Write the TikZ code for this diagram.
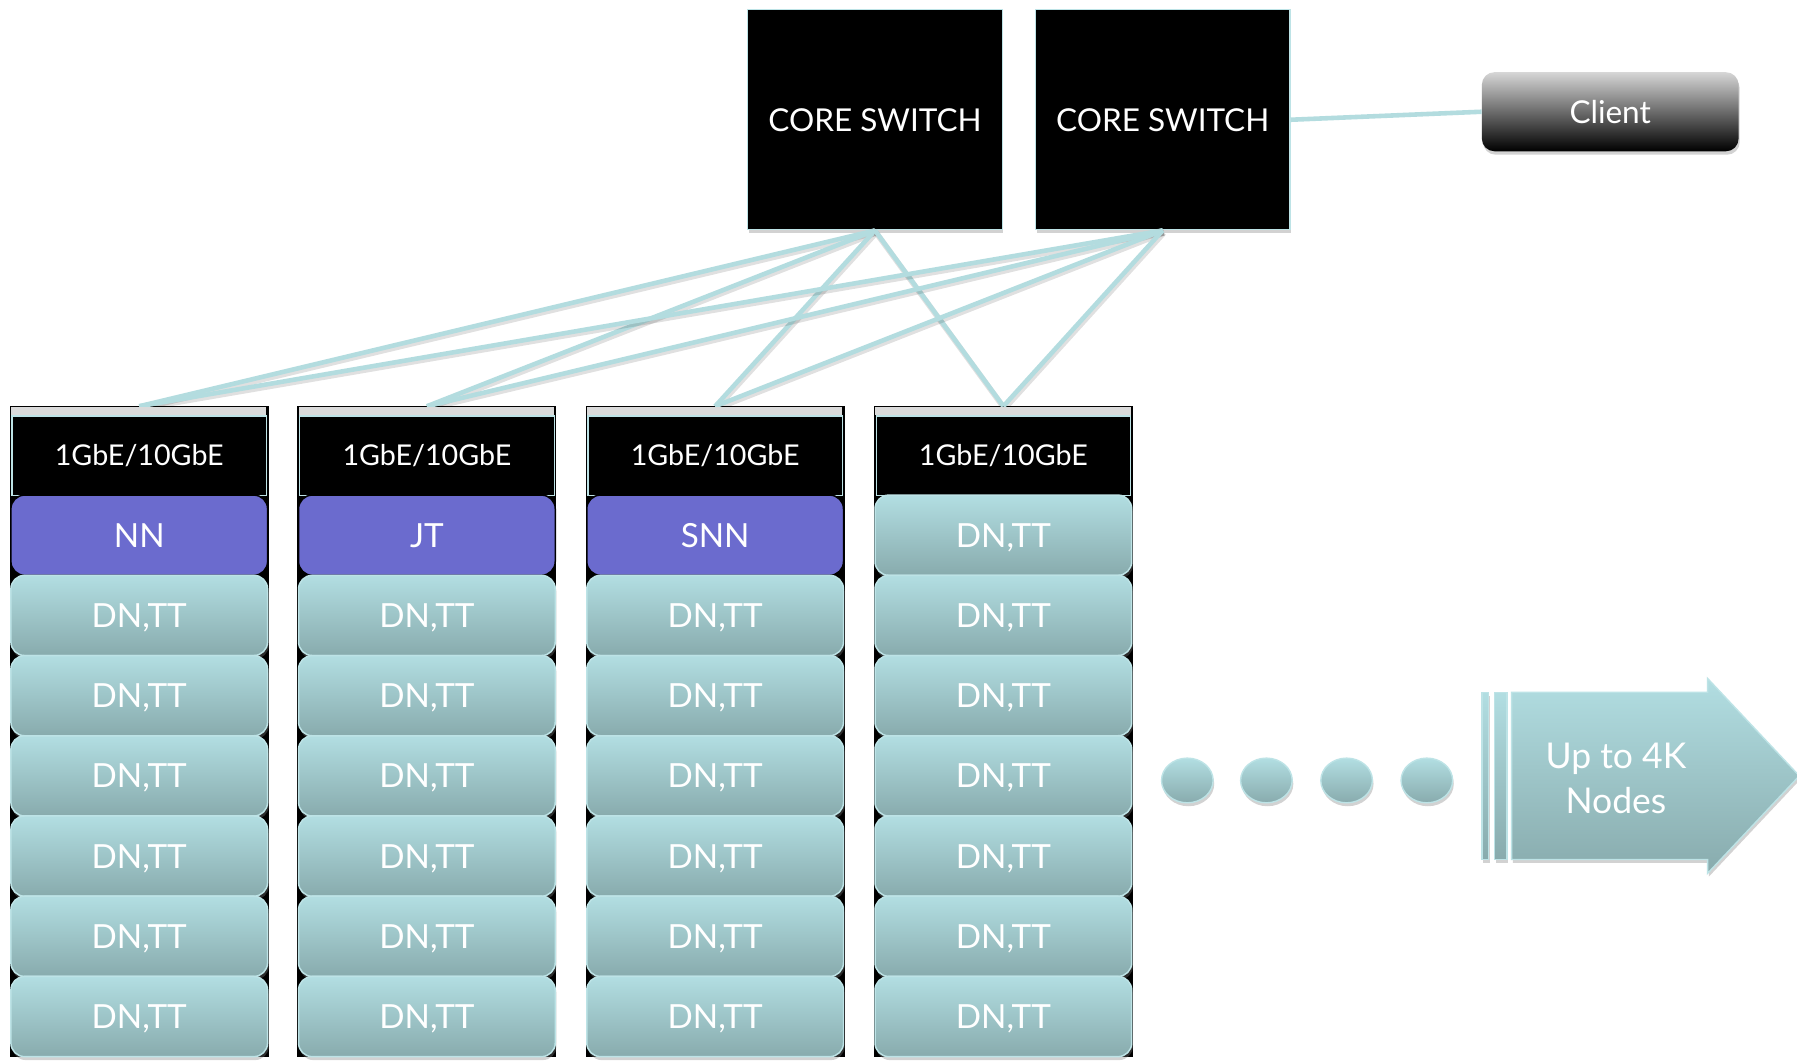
\documentclass[tikz,border=0pt]{standalone}
\usepackage{fontspec}
\setmainfont{Lato}
\usetikzlibrary{shadows,shapes.geometric,calc}

\definecolor{tealhi}{HTML}{B2DEE2}
\definecolor{tealsh}{HTML}{88ABAD}
\definecolor{tealedge}{HTML}{BDE3E6}
\definecolor{wire}{HTML}{B3DCDF}
\definecolor{rolefill}{HTML}{6B6BCE}
\definecolor{stripgray}{HTML}{DADADA}
\definecolor{clienttop}{HTML}{D6D6D6}
\definecolor{clientmid}{HTML}{8E8E8E}

\tikzset{
  lbl/.style={text=white, inner sep=0pt, text height=21pt, text depth=0pt,
    font=\fontsize{29}{33}\selectfont},
  softshadow/.style={drop shadow={opacity=0.35, shadow xshift=1pt, shadow yshift=-3pt}},
  switchbox/.style={lbl, font=\fontsize{27.5}{31}\selectfont, text height=20pt,
    fill=black, draw=tealedge, line width=1.2pt,
    minimum width=222pt, minimum height=192pt, softshadow},
  rackframe/.style={fill=black, draw=black, line width=1pt,
    minimum width=225pt, minimum height=567pt, inner sep=0pt},
  hdrbox/.style={lbl, font=\fontsize{25}{29}\selectfont, text height=18pt,
    fill=black, draw=tealedge, line width=1pt,
    minimum width=222pt, minimum height=69pt},
  dnbox/.style={lbl, top color=tealhi, bottom color=tealsh, draw=tealedge,
    line width=1.3pt, rounded corners=12pt,
    minimum width=224pt, minimum height=70pt, softshadow},
  rolebox/.style={lbl, fill=rolefill, draw=black, line width=1.3pt,
    rounded corners=12pt, minimum width=224pt, minimum height=70pt},
  clientbox/.style={lbl, font=\fontsize{27.5}{31}\selectfont, text height=20pt,
    top color=clienttop, middle color=clientmid,
    bottom color=black, rounded corners=11pt,
    minimum width=224pt, minimum height=69pt, softshadow},
  dotbox/.style={ellipse, top color=tealhi, bottom color=tealsh, draw=tealedge,
    line width=1.2pt, minimum width=45pt, minimum height=39pt, inner sep=0pt,
    softshadow},
  tealfill/.style={top color=tealhi, bottom color=tealsh, draw=tealedge,
    line width=1.2pt},
  wirestyle/.style={draw=wire, line width=4pt},
}

\begin{document}
\begin{tikzpicture}[x=1pt,y=-1pt]
\useasboundingbox (0,0) rectangle (1568,925);
\fill[white] (0,0) rectangle (1568,925);

% core switches and the client
\node[switchbox] (cs1) at (763.5,104.5) {CORE SWITCH};
\node[switchbox] (cs2) at (1014.5,104.5) {CORE SWITCH};
\node[clientbox] (client) at (1405,97.5) {Client};

% rack frames (drawn first so the uplinks end on their top edge)
\foreach \i/\cx in {1/121.5,2/372.5,3/624,4/875.5}{
  \node[rackframe] (rack\i) at (\cx,638.5) {};
}

% uplinks from both core switches to every rack
\foreach \s in {cs1,cs2}{
  \foreach \i in {1,2,3,4}{
    \draw[draw=black, opacity=0.12, line width=5pt]
      ([xshift=1pt,yshift=-2pt]\s.south) -- ([xshift=1pt,yshift=-2pt]rack\i.north);
    \draw[wirestyle] (\s.south) -- (rack\i.north);
  }
}
\draw[wirestyle] (cs2.east) -- (client.west);

% rack headers
\foreach \i/\cx in {1/121.5,2/372.5,3/624,4/875.5}{
  \fill[stripgray] ([shift={(1,1)}]rack\i.north west) rectangle ++(223,7);
  \node[hdrbox] (hdr\i) at (\cx,397.5) {1GbE/10GbE};
}

% first row of each rack: master roles on three racks, a worker on the fourth
\node[rolebox] (cell1-1) at (121.5,467) {NN};
\node[rolebox] (cell2-1) at (372.5,467) {JT};
\node[rolebox] (cell3-1) at (624,467) {SNN};
\node[dnbox]   (cell4-1) at (875.5,467) {DN,TT};

% worker rows
\foreach \i/\cx in {1/121.5,2/372.5,3/624,4/875.5}{
  \foreach \j/\cy in {2/537,3/607,4/677,5/747,6/817,7/887}{
    \node[dnbox] (cell\i-\j) at (\cx,\cy) {DN,TT};
  }
}

% ellipsis dots
\foreach \k/\dx in {1/1036,2/1105,3/1175,4/1245}{
  \node[dotbox] (dot\k) at (\dx,681) {};
}

% striped arrow
\path[tealfill, softshadow] (1293,604) rectangle (1299,750);
\path[tealfill, softshadow] (1304,604) rectangle (1315,750);
\path[tealfill, softshadow] (1319,604) -- (1490,604) -- (1490,592)
  -- (1570,677) -- (1490,762) -- (1490,750) -- (1319,750) -- cycle;
\node[text=white, inner sep=0pt, align=center,
  font=\fontsize{31}{39}\selectfont] (uptext) at (1410,679)
  {Up to 4K\\Nodes};
\end{tikzpicture}
\end{document}
